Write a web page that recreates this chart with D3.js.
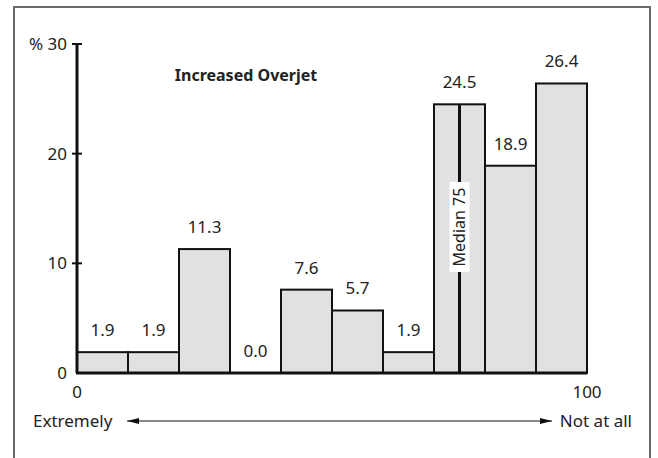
<!DOCTYPE html>
<html>
<head>
<meta charset="utf-8">
<script src="https://cdn.jsdelivr.net/npm/d3@7"></script>
<style>
  body { margin: 0; background: #fff; }
  text { font-family: "Noto Sans", "Open Sans", sans-serif; fill: #222; }
</style>
</head>
<body>
<div class="canvas"></div>
<script>
// data
const binStarts = [0, 10, 20, 30, 40, 50, 60, 70, 80, 90]
const percents = [1.9, 1.9, 11.3, 0.0, 7.6, 5.7, 1.9, 24.5, 18.9, 26.4]
const yTicks = [0, 10, 20, 30]
const xTicks = [0, 100]
const median = 75
const title = "Increased Overjet"

/**
 * Graph dimensions
 */
const width = 658, height = 458
const fontSize = "17px"
const svg = d3.select(".canvas").append("svg")
    .attr("width", width)
    .attr("height", height)

// outer frame
svg.append("rect")
    .attr("x", 14).attr("y", 7)
    .attr("width", 636).attr("height", 460)
    .attr("fill", "none")
    .attr("stroke", "#6a6a6a")
    .attr("stroke-width", 2)

const x = d3.scaleLinear().domain([0, 100]).range([77, 587])
const y = d3.scaleLinear().domain([0, 30]).range([373, 44])

// bars
svg.selectAll("rect.bar")
    .data(percents)
    .enter().append("rect")
    .attr("class", "bar")
    .attr("x", (d, i) => x(binStarts[i]))
    .attr("width", (d, i) => x(binStarts[i] + 10) - x(binStarts[i]))
    .attr("y", d => y(d))
    .attr("height", d => y(0) - y(d))
    .attr("fill", "#e1e1e1")
    .attr("stroke", "#111")
    .attr("stroke-width", 2)

// value labels
svg.selectAll("text.val")
    .data(percents)
    .enter().append("text")
    .attr("class", "val")
    .attr("x", (d, i) => x(binStarts[i] + 5))
    .attr("y", d => y(d) - 16)
    .attr("text-anchor", "middle")
    .style("font-size", fontSize)
    .text(d => d.toFixed(1))

// median line
const medTop = y(percents[binStarts.indexOf(70)])
svg.append("line")
    .attr("x1", x(median)).attr("x2", x(median))
    .attr("y1", y(0)).attr("y2", medTop)
    .attr("stroke", "#111")
    .attr("stroke-width", 3)

const medLabel = svg.append("g")
    .attr("transform", `translate(${x(median)},${227}) rotate(-90)`)
medLabel.append("rect")
    .attr("x", -45).attr("y", -10)
    .attr("width", 90).attr("height", 20)
    .attr("fill", "#fff")
medLabel.append("text")
    .attr("text-anchor", "middle")
    .attr("dy", "0.35em")
    .style("font-size", "16px")
    .text("Median " + median)

// axes
svg.append("line")
    .attr("x1", x(0)).attr("x2", x(0))
    .attr("y1", y(0)).attr("y2", y(30))
    .attr("stroke", "#111").attr("stroke-width", 3)
svg.append("line")
    .attr("x1", x(0) - 1).attr("x2", x(100))
    .attr("y1", y(0)).attr("y2", y(0))
    .attr("stroke", "#111").attr("stroke-width", 3)

svg.selectAll("line.ytick")
    .data(yTicks.filter(d => d > 0))
    .enter().append("line")
    .attr("x1", x(0) - 5).attr("x2", x(0) + 5)
    .attr("y1", d => y(d)).attr("y2", d => y(d))
    .attr("stroke", "#111").attr("stroke-width", 2)

svg.selectAll("text.ytick")
    .data(yTicks)
    .enter().append("text")
    .attr("x", x(0) - 10)
    .attr("y", d => y(d))
    .attr("dy", "0.35em")
    .attr("text-anchor", "end")
    .style("font-size", fontSize)
    .text(d => d === 30 ? "% 30" : d)

svg.selectAll("text.xtick")
    .data(xTicks)
    .enter().append("text")
    .attr("x", d => x(d))
    .attr("y", 392)
    .attr("dy", "0.35em")
    .attr("text-anchor", "middle")
    .style("font-size", fontSize)
    .text(d => d)

// title
svg.append("text")
    .attr("x", 246).attr("y", 75)
    .attr("dy", "0.35em")
    .attr("text-anchor", "middle")
    .style("font-size", "16px")
    .style("font-weight", "bold")
    .text(title)

// scale arrow
const defs = svg.append("defs")
defs.append("marker")
    .attr("id", "head")
    .attr("viewBox", "0 0 12 8")
    .attr("refX", 12).attr("refY", 4)
    .attr("markerWidth", 12).attr("markerHeight", 8)
    .attr("markerUnits", "userSpaceOnUse")
    .attr("orient", "auto-start-reverse")
    .append("path")
    .attr("d", "M0,1L12,4L0,7Z")
    .attr("fill", "#111")

svg.append("line")
    .attr("x1", 127).attr("x2", 552)
    .attr("y1", 421).attr("y2", 421)
    .attr("stroke", "#111").attr("stroke-width", 1)
    .attr("marker-start", "url(#head)")
    .attr("marker-end", "url(#head)")

svg.append("text")
    .attr("x", 33).attr("y", 421)
    .attr("dy", "0.35em")
    .style("font-size", fontSize)
    .text("Extremely")
svg.append("text")
    .attr("x", 632).attr("y", 421)
    .attr("dy", "0.35em")
    .attr("text-anchor", "end")
    .style("font-size", fontSize)
    .text("Not at all")
</script>
</body>
</html>
